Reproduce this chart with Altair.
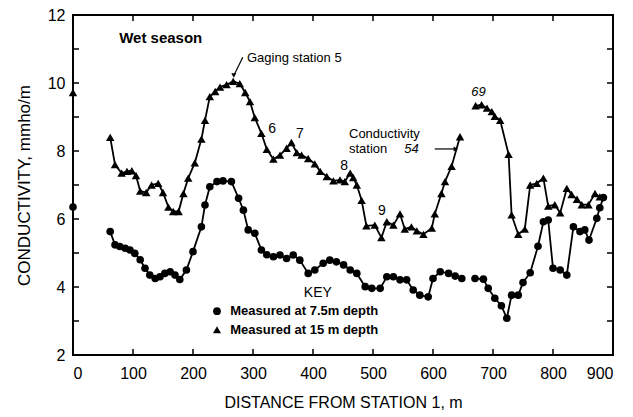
import altair as alt
import pandas as pd

# ---- data ----
dist_75 = [0, 62, 70, 78, 87, 95, 103, 112, 120, 128, 137, 145, 153, 162, 170, 178, 189, 200, 214, 220,
           228, 240, 250, 264, 276, 284, 292, 303, 314, 323, 334, 345, 356, 367, 378, 392, 403, 417, 428,
           439, 451, 462, 473, 487, 498, 512, 523, 534, 545, 556, 567, 578, 592, 600, 612, 626, 637, 648,
           670, 684, 692, 703, 714, 723, 731, 742, 750, 762, 775, 784, 792, 800, 812, 823, 834, 845, 853,
           860, 873, 878, 884]
cond_75 = [6.35, 5.63, 5.24, 5.19, 5.14, 5.09, 4.99, 4.80, 4.55, 4.35, 4.25, 4.30, 4.40, 4.45, 4.35, 4.22,
           4.50, 5.04, 5.77, 6.41, 6.95, 7.10, 7.12, 7.10, 6.61, 6.26, 5.68, 5.58, 5.09, 4.95, 4.89, 4.94,
           4.84, 4.94, 4.79, 4.40, 4.50, 4.70, 4.79, 4.74, 4.65, 4.50, 4.40, 4.01, 3.96, 3.96, 4.30, 4.30,
           4.21, 4.21, 3.91, 3.76, 3.71, 4.25, 4.45, 4.40, 4.32, 4.25, 4.25, 4.23, 3.96, 3.67, 3.45, 3.08,
           3.76, 3.76, 4.13, 4.42, 5.20, 5.92, 5.97, 4.55, 4.50, 4.35, 5.77, 5.63, 5.68, 5.38, 6.02, 6.33,
           6.63]

dist_15 = [0, 62, 70, 81, 90, 98, 105, 112, 122, 131, 142, 150, 159, 167, 176, 184, 192, 203, 214, 220,
           228, 237, 245, 256, 267, 278, 287, 295, 303, 314, 323, 334, 345, 356, 364, 373, 381, 392, 403,
           412, 423, 434, 445, 453, 462, 467, 473, 481, 489, 503, 514, 523, 534, 545, 553, 564, 573, 584,
           598, 603, 614, 620, 631, 645,
           671, 681, 690, 698, 703, 712, 726, 731, 742, 753, 762, 773, 784, 792, 803, 812, 823, 831, 840,
           848, 859, 870, 878]
cond_15 = [9.72, 8.40, 7.60, 7.35, 7.40, 7.42, 7.28, 6.82, 6.78, 7.00, 7.05, 6.78, 6.35, 6.22, 6.22, 6.75,
           7.20, 7.65, 8.35, 8.90, 9.60, 9.75, 9.88, 9.95, 10.05, 9.98, 9.72, 9.45, 8.98, 8.52, 8.05, 7.76,
           7.88, 8.08, 8.25, 7.95, 7.88, 7.78, 7.62, 7.40, 7.25, 7.12, 7.15, 7.10, 7.35, 7.22, 7.00, 6.55,
           5.80, 5.82, 5.45, 5.92, 5.82, 6.15, 5.70, 5.77, 5.65, 5.55, 5.73, 6.15, 6.75, 7.10, 7.55, 8.42,
           9.33, 9.36, 9.26, 9.16, 9.02, 8.90, 7.90, 6.12, 5.55, 5.70, 7.00, 7.05, 7.20, 6.38, 6.42, 6.18,
           6.90, 6.72, 6.58, 6.42, 6.42, 6.75, 6.65]

x_ticks = [0, 100, 200, 300, 400, 500, 600, 700, 800, 900]
y_ticks = [2, 3, 4, 5, 6, 7, 8, 9, 10, 11, 12]
y_labels = [2, 4, 6, 8, 10, 12]

FONT = "Liberation Sans"
W, H = 540, 340


def segments(xs, gap=15):
    seg, out, prev = 0, [], None
    for x in xs:
        if prev is not None and x - prev > gap:
            seg += 1
        out.append(seg)
        prev = x
    return out


df75 = pd.DataFrame({"x": dist_75, "y": cond_75, "seg": segments(dist_75)})
df15 = pd.DataFrame({"x": dist_15, "y": cond_15, "seg": segments(dist_15)})

xs = alt.Scale(domain=[0, 900], nice=False, zero=False)
ys = alt.Scale(domain=[2, 12], nice=False, zero=False)

X = alt.X("x:Q", scale=xs, axis=alt.Axis(values=x_ticks, title="DISTANCE FROM STATION 1, m",
                                          ticks=False, tickSize=0, labelPadding=10, titlePadding=13,
                                          titleFontSize=16, domain=False, grid=False))
Y = alt.Y("y:Q", scale=ys, axis=alt.Axis(values=y_labels, title="CONDUCTIVITY, mmho/m",
                                          ticks=False, tickSize=0, labelPadding=8, titlePadding=14,
                                          titleFontSize=17, domain=False, grid=False))

line75 = alt.Chart(df75).mark_line(color="black", strokeWidth=1.8).encode(x=X, y=Y, detail="seg:N")
pts75 = alt.Chart(df75).mark_point(shape="circle", filled=True, color="black", size=58, opacity=1).encode(x=X, y=Y)
line15 = alt.Chart(df15).mark_line(color="black", strokeWidth=1.8).encode(x=X, y=Y, detail="seg:N")
pts15 = alt.Chart(df15).mark_point(shape="triangle-up", filled=True, color="black", size=72, opacity=1).encode(x=X, y=Y)

# inward axis ticks
dfx = pd.DataFrame({"x": x_ticks})
dfy = pd.DataFrame({"y": y_ticks})
tick_b = alt.Chart(dfx).mark_rule(color="black", strokeWidth=1.5).encode(x=X, y=alt.value(H), y2=alt.value(H - 6))
tick_t = alt.Chart(dfx).mark_rule(color="black", strokeWidth=1.5).encode(x=X, y=alt.value(0), y2=alt.value(6))
tick_l = alt.Chart(dfy).mark_rule(color="black", strokeWidth=1.5).encode(y=Y, x=alt.value(0), x2=alt.value(6))
tick_r = alt.Chart(dfy).mark_rule(color="black", strokeWidth=1.5).encode(y=Y, x=alt.value(W), x2=alt.value(W - 6))


def txt(df, **kw):
    return alt.Chart(pd.DataFrame(df)).mark_text(font=FONT, color="black", **kw).encode(x=X, y=Y, text="t:N")


wet = txt({"x": [77], "y": [11.32], "t": ["Wet season"]}, align="left", baseline="middle", fontSize=15, fontWeight="bold")
gaging = txt({"x": [290], "y": [10.74], "t": ["Gaging station  5"]}, align="left", baseline="middle", fontSize=13)
nums = txt({"x": [332, 378, 452, 515], "y": [8.66, 8.50, 7.56, 6.23], "t": ["6", "7", "8", "9"]},
           align="center", baseline="middle", fontSize=14)
cond_lab = txt({"x": [460, 460], "y": [8.50, 8.06], "t": ["Conductivity", "station"]},
               align="left", baseline="middle", fontSize=13)
lab54 = txt({"x": [552], "y": [8.06], "t": ["54"]}, align="left", baseline="middle", fontSize=13, fontStyle="italic")
lab69 = txt({"x": [676], "y": [9.74], "t": ["69"]}, align="center", baseline="middle", fontSize=13, fontStyle="italic")
key = txt({"x": [408], "y": [3.82], "t": ["KEY"]}, align="center", baseline="middle", fontSize=14)
key_t = txt({"x": [262, 262], "y": [3.29, 2.74], "t": ["Measured at 7.5m depth", "Measured at 15 m depth"]},
            align="left", baseline="middle", fontSize=13, fontWeight="bold")
key_c = alt.Chart(pd.DataFrame({"x": [240], "y": [3.29]})).mark_point(shape="circle", filled=True, color="black", size=60, opacity=1).encode(x=X, y=Y)
key_tr = alt.Chart(pd.DataFrame({"x": [240], "y": [2.74]})).mark_point(shape="triangle-up", filled=True, color="black", size=65, opacity=1).encode(x=X, y=Y)

# leader arrows
lead_g = alt.Chart(pd.DataFrame({"x": [283], "y": [10.76], "x2": [268], "y2": [10.22]})).mark_rule(color="black", strokeWidth=1.2).encode(
    x=X, y=Y, x2="x2:Q", y2="y2:Q")
head_g = alt.Chart(pd.DataFrame({"x": [268], "y": [10.22]})).mark_point(shape="triangle-down", filled=True, color="black", size=25, opacity=1).encode(x=X, y=Y)
lead_c = alt.Chart(pd.DataFrame({"x": [603], "y": [8.06], "x2": [638], "y2": [8.06]})).mark_rule(color="black", strokeWidth=1.2).encode(
    x=X, y=Y, x2="x2:Q", y2="y2:Q")
head_c = alt.Chart(pd.DataFrame({"x": [638], "y": [8.06]})).mark_point(shape="triangle-right", filled=True, color="black", size=25, opacity=1).encode(x=X, y=Y)

chart = alt.layer(
    line75, line15, pts75, pts15,
    tick_b, tick_t, tick_l, tick_r,
    wet, gaging, nums, cond_lab, lab54, lab69, key, key_t, key_c, key_tr,
    lead_g, head_g, lead_c, head_c,
).properties(
    width=W, height=H, autosize="none",
    padding={"left": 65, "top": 7, "right": 12, "bottom": 55},
    background="white",
).configure_view(
    stroke="black", strokeWidth=2,
).configure_axis(
    labelFont=FONT, labelFontSize=16, labelColor="black",
    titleFont=FONT, titleColor="black", titleFontWeight="normal",
)

chart.save("out.html", embed_options={"renderer": "svg", "actions": False})
